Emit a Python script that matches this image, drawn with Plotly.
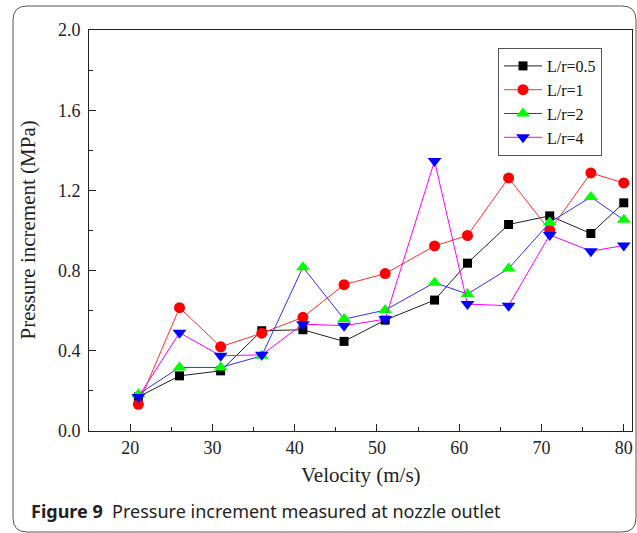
import plotly.graph_objects as go

velocity = [21, 26, 31, 36, 41, 46, 51, 57, 61, 66, 71, 76, 80]
lr_05 = [0.17, 0.275, 0.30, 0.50, 0.505, 0.447, 0.553, 0.653, 0.837, 1.03, 1.073, 0.985, 1.138]
lr_1 = [0.133, 0.615, 0.42, 0.488, 0.567, 0.73, 0.785, 0.923, 0.975, 1.262, 1.0, 1.287, 1.237]
lr_2 = [0.183, 0.317, 0.317, 0.375, 0.817, 0.558, 0.603, 0.74, 0.683, 0.81, 1.04, 1.167, 1.053]
lr_4 = [0.17, 0.49, 0.375, 0.38, 0.533, 0.525, 0.558, 1.347, 0.633, 0.625, 0.978, 0.897, 0.925]

series = [
    ("L/r=0.5", lr_05, "#222222", "square", "#000000", 9),
    ("L/r=1", lr_1, "#ff3030", "circle", "#ff0000", 11),
    ("L/r=2", lr_2, "#3030ff", "triangle-up", "#00ff00", 12),
    ("L/r=4", lr_4, "#ff00ff", "triangle-down", "#0000ff", 12),
]

W, H = 637, 533
L, R, T, B = 89, 632, 30, 431

fig = go.Figure()
for name, vals, lc, sym, mc, ms in series:
    fig.add_trace(go.Scatter(
        x=velocity, y=vals, name=name, mode="lines+markers",
        line=dict(color=lc, width=1),
        marker=dict(symbol=sym, color=mc, size=ms, line=dict(width=0)),
    ))

serif = "Liberation Serif, Times New Roman, serif"

def px(xp):
    return (xp - L) / (R - L)

def py(yp):
    return (B - yp) / (B - T)

# outer rounded frame (decoration)
x0, x1, y0, y1, rad = 13, 636, 6, 532, 14
rx, ry = rad / (R - L), rad / (B - T)
path = (
    f"M {px(x0)+rx},{py(y0)} L {px(x1)-rx},{py(y0)} Q {px(x1)},{py(y0)} {px(x1)},{py(y0)-ry} "
    f"L {px(x1)},{py(y1)+ry} Q {px(x1)},{py(y1)} {px(x1)-rx},{py(y1)} "
    f"L {px(x0)+rx},{py(y1)} Q {px(x0)},{py(y1)} {px(x0)},{py(y1)+ry} "
    f"L {px(x0)},{py(y0)-ry} Q {px(x0)},{py(y0)} {px(x0)+rx},{py(y0)} Z"
)

fig.update_layout(
    width=W, height=H,
    margin=dict(l=L, r=W - R, t=T, b=H - B),
    plot_bgcolor="white", paper_bgcolor="white",
    font=dict(family=serif, size=18, color="#222"),
    showlegend=True,
    legend=dict(
        x=px(498), y=py(48), xanchor="left", yanchor="top",
        bordercolor="#555", borderwidth=1, bgcolor="white",
        font=dict(family=serif, size=16, color="#111"),
        tracegroupgap=0, itemwidth=38,
    ),
    shapes=[dict(type="path", path=path, xref="paper", yref="paper",
                 line=dict(color="#555", width=1), layer="below")],
    annotations=[
        dict(text="Velocity (m/s)", xref="paper", yref="paper", x=0.5, y=py(475),
             xanchor="center", yanchor="middle", showarrow=False,
             font=dict(family=serif, size=21, color="#222")),
        dict(text="Pressure increment (MPa)", xref="paper", yref="paper", x=px(27), y=0.5,
             xanchor="center", yanchor="middle", showarrow=False, textangle=-90,
             font=dict(family=serif, size=21, color="#222")),
        dict(text="<b>Figure 9</b>  Pressure increment measured at nozzle outlet",
             xref="paper", yref="paper", x=px(29), y=py(511),
             xanchor="left", yanchor="middle", showarrow=False,
             font=dict(family="Noto Sans, Open Sans, sans-serif", size=18, color="#222")),
    ],
)

fig.update_xaxes(
    range=[15, 81], tickvals=[20, 30, 40, 50, 60, 70, 80],
    ticks="inside", ticklen=7, tickwidth=1, tickcolor="#222",
    minor=dict(tickvals=[25, 35, 45, 55, 65, 75], ticks="inside", ticklen=4, tickcolor="#222"),
    showline=True, linecolor="#222", linewidth=1, mirror=True,
    showgrid=False, zeroline=False,
    tickfont=dict(family=serif, size=18, color="#222"),
)
fig.update_yaxes(
    range=[0, 2.0], tickvals=[0, 0.4, 0.8, 1.2, 1.6, 2.0],
    ticktext=["0.0", "0.4", "0.8", "1.2", "1.6", "2.0"],
    ticks="inside", ticklen=7, tickwidth=1, tickcolor="#222",
    minor=dict(tickvals=[0.2, 0.6, 1.0, 1.4, 1.8], ticks="inside", ticklen=4, tickcolor="#222"),
    showline=True, linecolor="#222", linewidth=1, mirror=True,
    showgrid=False, zeroline=False, ticklabelstandoff=4,
    tickfont=dict(family=serif, size=18, color="#222"),
)

fig.write_html("out.html", config={"displayModeBar": False},
               post_script="document.body.style.margin='0';")
